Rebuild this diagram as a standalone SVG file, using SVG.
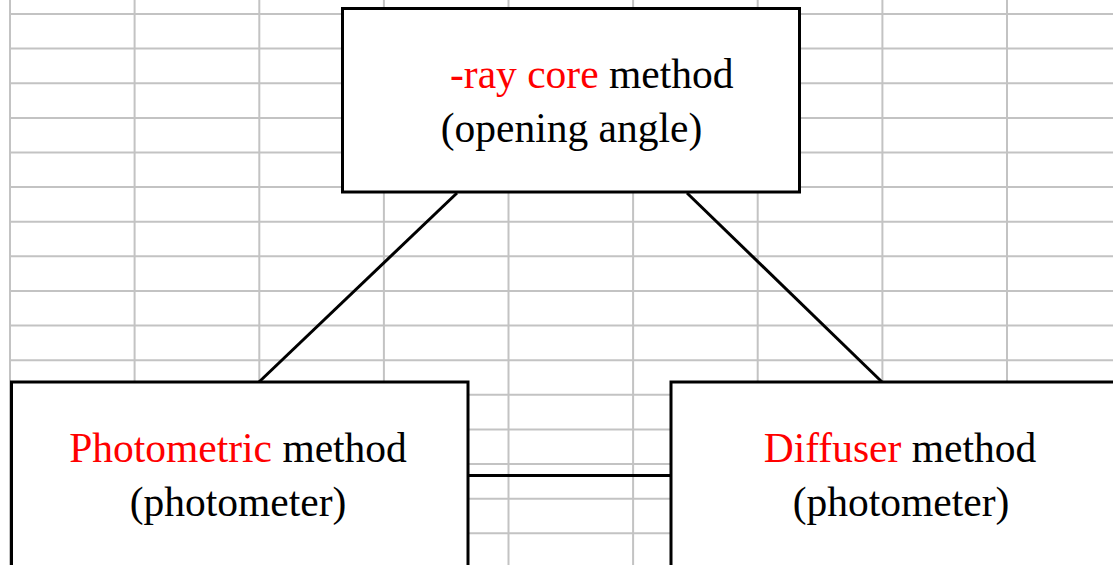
<svg xmlns="http://www.w3.org/2000/svg" width="1113" height="565" viewBox="0 0 1113 565">
<style>
.grid line{stroke:#c3c3c3;stroke-width:2}
.box{fill:#fff;stroke:#000;stroke-width:3}
.conn line{stroke:#000;stroke-width:3}
text{font-family:"Liberation Serif","Times New Roman",serif;font-size:41.5px;fill:#000}
.red{fill:#ff0000}
</style>
<rect width="1113" height="565" fill="#fff"/>
<g class="grid">
<line x1="10" y1="0" x2="10" y2="565"/>
<line x1="134.6" y1="0" x2="134.6" y2="565"/>
<line x1="259.3" y1="0" x2="259.3" y2="565"/>
<line x1="383.9" y1="0" x2="383.9" y2="565"/>
<line x1="508.5" y1="0" x2="508.5" y2="565"/>
<line x1="633.1" y1="0" x2="633.1" y2="565"/>
<line x1="757.7" y1="0" x2="757.7" y2="565"/>
<line x1="882.4" y1="0" x2="882.4" y2="565"/>
<line x1="1007" y1="0" x2="1007" y2="565"/>
<line x1="10" y1="14" x2="1113" y2="14"/>
<line x1="10" y1="48.6" x2="1113" y2="48.6"/>
<line x1="10" y1="83.2" x2="1113" y2="83.2"/>
<line x1="10" y1="117.9" x2="1113" y2="117.9"/>
<line x1="10" y1="152.5" x2="1113" y2="152.5"/>
<line x1="10" y1="187.1" x2="1113" y2="187.1"/>
<line x1="10" y1="221.7" x2="1113" y2="221.7"/>
<line x1="10" y1="256.3" x2="1113" y2="256.3"/>
<line x1="10" y1="291" x2="1113" y2="291"/>
<line x1="10" y1="325.6" x2="1113" y2="325.6"/>
<line x1="10" y1="360.2" x2="1113" y2="360.2"/>
<line x1="10" y1="394.8" x2="1113" y2="394.8"/>
<line x1="10" y1="429.4" x2="1113" y2="429.4"/>
<line x1="10" y1="464.1" x2="1113" y2="464.1"/>
<line x1="10" y1="498.7" x2="1113" y2="498.7"/>
<line x1="10" y1="533.3" x2="1113" y2="533.3"/>
</g>
<g id="connectors" class="conn">
<line x1="457" y1="193" x2="259" y2="382"/>
<line x1="687" y1="193" x2="882" y2="382"/>
<line x1="468" y1="475.5" x2="671" y2="475.5"/>
</g>
<g id="node-top">
<rect class="box" x="342.5" y="8.5" width="457" height="183.5"/>
<text x="450" y="88"><tspan class="red">-ray core</tspan> method</text>
<text x="571.5" y="141.5" text-anchor="middle">(opening angle)</text>
</g>
<g id="node-left">
<rect class="box" x="11.5" y="382" width="456.5" height="200"/>
<text x="238" y="461.5" text-anchor="middle"><tspan class="red">Photometric</tspan> method</text>
<text x="238" y="516" text-anchor="middle">(photometer)</text>
</g>
<g id="node-right">
<rect class="box" x="671" y="382" width="460" height="200"/>
<text x="900" y="461.5" text-anchor="middle"><tspan class="red">Diffuser</tspan> method</text>
<text x="901" y="516" text-anchor="middle">(photometer)</text>
</g>
</svg>
